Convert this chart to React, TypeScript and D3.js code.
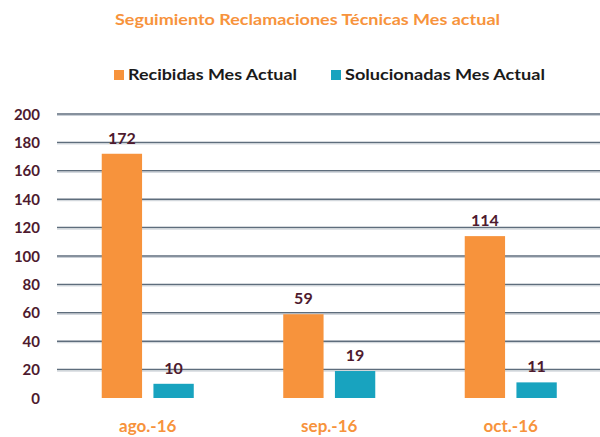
import React from "react";
import * as d3 from "d3";

const categories = ["ago.-16", "sep.-16", "oct.-16"];
const seriesNames = ["Recibidas Mes Actual", "Solucionadas Mes Actual"];
const recibidas = [172, 59, 114];
const solucionadas = [10, 19, 11];
const yTicks = [0, 20, 40, 60, 80, 100, 120, 140, 160, 180, 200];
const title = "Seguimiento Reclamaciones Técnicas Mes actual";

const colors = ["#F7933C", "#18A3BF"];
const FONT = "Lato, 'Open Sans', sans-serif";

export default function App() {
  const W = 600, H = 437;
  const y = d3.scaleLinear().domain([0, 200]).range([398, 114]);
  const x0 = d3.scaleBand<string>().domain(categories).range([57, 601.5]).paddingInner(0.493).paddingOuter(0.2465);
  const x1 = d3.scaleBand<string>().domain(seriesNames).range([0, x0.bandwidth()]).paddingInner(0.22);
  const values = [recibidas, solucionadas];

  return (
    <svg width={W} height={H} style={{ position: "absolute", left: 0, top: 0, background: "#fff" }}>
      <text x={115} y={25} textLength={385} lengthAdjust="spacingAndGlyphs" fill="#F7933C" fontFamily={FONT} fontWeight="bold" fontSize={15}>
        {title}
      </text>
      {/* legend */}
      <rect x={114} y={70} width={10} height={10} fill={colors[0]} />
      <text x={128} y={80} textLength={169} lengthAdjust="spacingAndGlyphs" fill="#1a1a1a" fontFamily={FONT} fontWeight="bold" fontSize={15}>{seriesNames[0]}</text>
      <rect x={331} y={70} width={10} height={10} fill={colors[1]} />
      <text x={345} y={80} textLength={200} lengthAdjust="spacingAndGlyphs" fill="#1a1a1a" fontFamily={FONT} fontWeight="bold" fontSize={15}>{seriesNames[1]}</text>

      {/* gridlines */}
      {yTicks.filter((t) => t > 0).map((t) => (
        <g key={t}>
          <line x1={57} x2={600} y1={y(t)} y2={y(t)} stroke="#5E6D7C" strokeWidth={1.5} />
          <line x1={57} x2={600} y1={y(t) + 1.5} y2={y(t) + 1.5} stroke="#C9CFD6" strokeWidth={1} />
        </g>
      ))}
      {/* y tick labels */}
      {yTicks.map((t) => (
        <text key={t} x={40} y={y(t) + 5.5} textAnchor="end" fill="#4E1A2E" fontFamily={FONT} fontWeight="bold" fontSize={15}>
          {t}
        </text>
      ))}

      {/* bars */}
      {categories.map((c, i) => (
        <g key={c} transform={`translate(${x0(c)},0)`}>
          {seriesNames.map((s, j) => {
            const v = values[j][i];
            const bx = x1(s)!;
            return (
              <g key={s}>
                <rect x={bx} y={y(v)} width={x1.bandwidth()} height={y(0) - y(v)} fill={colors[j]} />
                <text x={bx + x1.bandwidth() / 2} y={y(v) - 10} textAnchor="middle" fill="#4E1A2E" fontFamily={FONT} fontWeight="bold" fontSize={16}>
                  {v}
                </text>
              </g>
            );
          })}
          <text x={x0.bandwidth() / 2} y={432} textAnchor="middle" fill="#F7933C" fontFamily={FONT} fontWeight="bold" fontSize={17}>
            {c}
          </text>
        </g>
      ))}
    </svg>
  );
}
